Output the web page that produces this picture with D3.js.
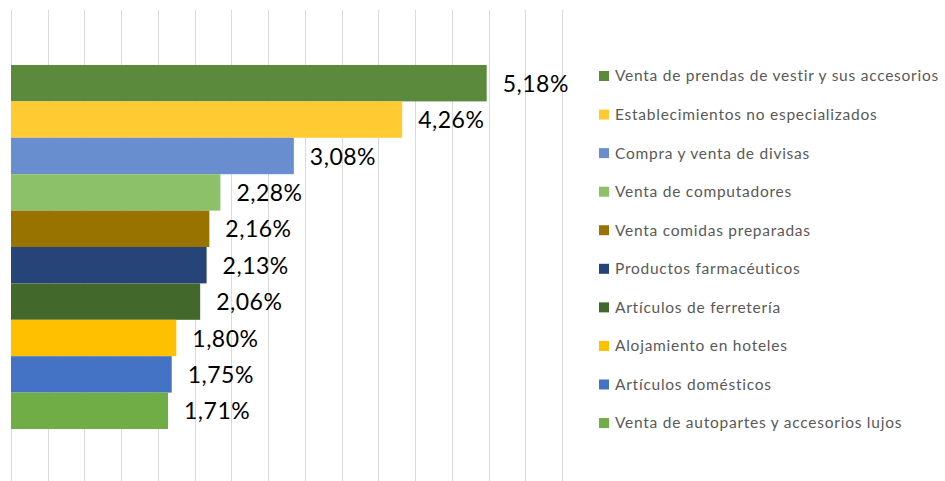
<!DOCTYPE html>
<html>
<head>
<meta charset="utf-8">
<script src="https://cdn.jsdelivr.net/npm/d3@7"></script>
<style>
  body { margin: 0; background: #fff; }
  text { font-family: Lato, "Open Sans", sans-serif; }
</style>
</head>
<body>
<div id="chart"></div>
<script>
// Data
var categories = [
    "Venta de prendas de vestir y sus accesorios",
    "Establecimientos no especializados",
    "Compra y venta de divisas",
    "Venta de computadores",
    "Venta comidas preparadas",
    "Productos farmacéuticos",
    "Artículos de ferretería",
    "Alojamiento en hoteles",
    "Artículos domésticos",
    "Venta de autopartes y accesorios lujos"
];
var values = [5.18, 4.26, 3.08, 2.28, 2.16, 2.13, 2.06, 1.80, 1.75, 1.71];
var colors = ["#5B8A3C", "#FFCB33", "#698ED0", "#8DC169", "#997300",
              "#264478", "#43682B", "#FFC000", "#4472C4", "#70AD47"];
var gridTicks = d3.range(0, 6.01, 0.4);

var width = 945, height = 481;

var svg = d3.select("#chart")
    .append("svg")
    .attr("width", width)
    .attr("height", height);

// Scales
var x = d3.scaleLinear()
    .domain([0, 6])
    .range([11, 562]);

var y = d3.scaleBand()
    .domain(categories)
    .range([65, 429])
    .padding(0);

var fmt = function(v) { return v.toFixed(2).replace(".", ",") + "%"; };

// Gridlines
svg.append("g")
    .selectAll("line")
    .data(gridTicks)
    .enter()
    .append("line")
    .attr("x1", function(d) { return Math.round(x(d)) + 0.5; })
    .attr("x2", function(d) { return Math.round(x(d)) + 0.5; })
    .attr("y1", 10)
    .attr("y2", height)
    .attr("stroke", "#D9D9D9")
    .attr("stroke-width", 1);

// Bars
svg.append("g")
    .selectAll("rect")
    .data(values)
    .enter()
    .append("rect")
    .attr("x", x(0))
    .attr("y", function(d, i) { return y(categories[i]); })
    .attr("width", function(d) { return x(d) - x(0); })
    .attr("height", y.bandwidth())
    .attr("fill", function(d, i) { return colors[i]; });

// Value labels
svg.append("g")
    .selectAll("text")
    .data(values)
    .enter()
    .append("text")
    .attr("x", function(d) { return x(d) + 16; })
    .attr("y", function(d, i) { return y(categories[i]) + y.bandwidth() / 2; })
    .attr("dy", "0.37em")
    .style("font-size", "23px")
    .style("letter-spacing", "0.5px")
    .attr("fill", "#000")
    .text(fmt);

// Legend
var legend = svg.append("g")
    .selectAll("g")
    .data(categories)
    .enter()
    .append("g")
    .attr("transform", function(d, i) { return "translate(599," + (76 + i * 38.56) + ")"; });

legend.append("rect")
    .attr("x", 0)
    .attr("y", -5)
    .attr("width", 10)
    .attr("height", 10)
    .attr("fill", function(d, i) { return colors[i]; });

legend.append("text")
    .attr("x", 16)
    .attr("y", 0)
    .attr("dy", "0.35em")
    .style("font-size", "15.5px")
    .style("letter-spacing", "0.75px")
    .attr("fill", "#595959")
    .text(function(d) { return d; });
</script>
</body>
</html>
